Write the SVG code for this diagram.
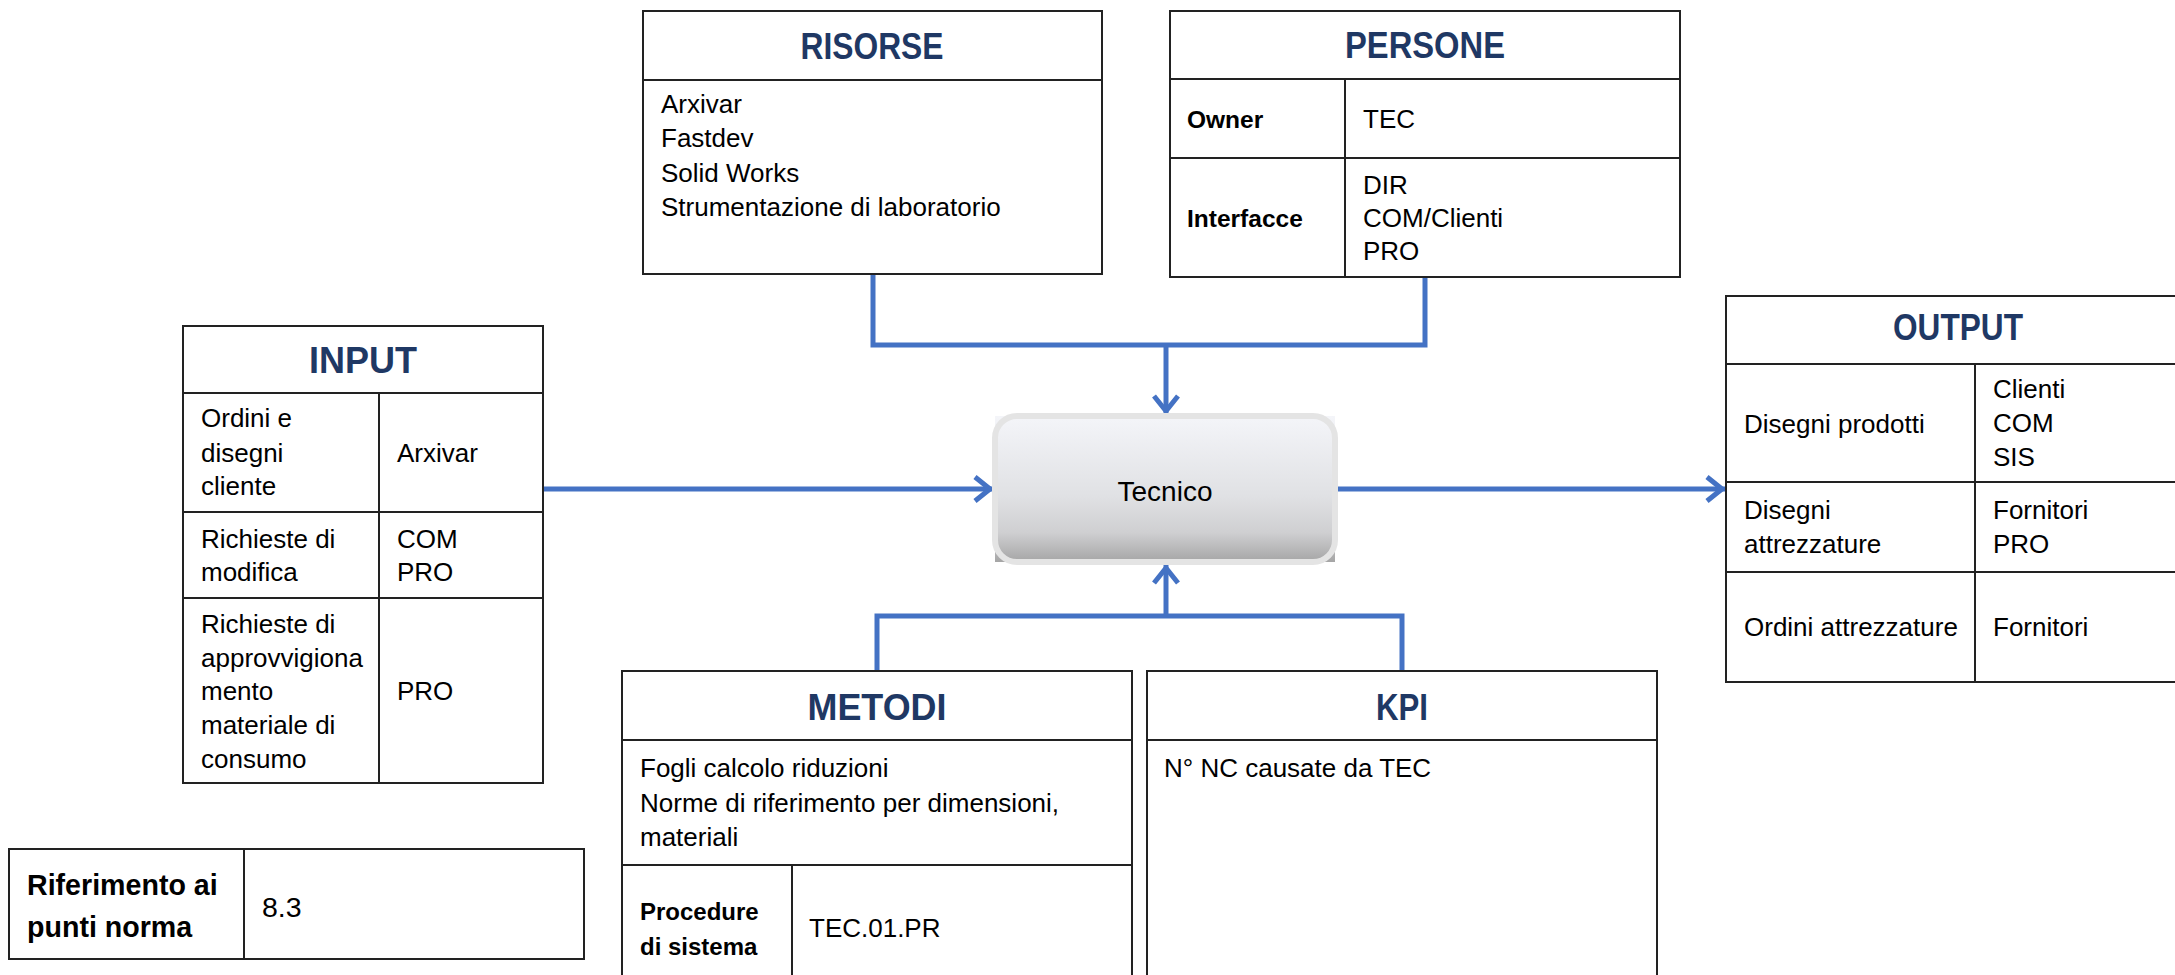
<svg xmlns="http://www.w3.org/2000/svg" width="2175" height="975" viewBox="0 0 2175 975">
<style>
.box{fill:#fff;stroke:#222;stroke-width:2}
.ln{stroke:#222;stroke-width:2;fill:none}
.t{font-family:"Liberation Sans",Arial,sans-serif;font-size:26px;fill:#000}
.b{font-family:"Liberation Sans",Arial,sans-serif;font-size:24.5px;font-weight:bold;fill:#000}
.h{font-family:"Liberation Sans",Arial,sans-serif;font-size:36px;font-weight:bold;fill:#1F3864;text-anchor:middle}
.c{stroke:#4472C4;stroke-width:5;fill:none}
</style>
<defs>
<marker id="arr" markerUnits="userSpaceOnUse" markerWidth="34" markerHeight="34" viewBox="0 0 34 34" refX="30" refY="17" orient="auto" overflow="visible">
<path d="M12,5 L27,17 L12,29" fill="none" stroke="#4472C4" stroke-width="5"/>
</marker>
<linearGradient id="g" x1="0" y1="0" x2="0" y2="1">
<stop offset="0" stop-color="#F4F5F9"/>
<stop offset="0.55" stop-color="#E0E1E4"/>
<stop offset="0.8" stop-color="#CFCFD1"/>
<stop offset="1" stop-color="#A5A5A5"/>
</linearGradient>
</defs>

<g id="connectors">
<polyline class="c" points="873,274 873,345 1425,345 1425,277"/>
<line class="c" x1="1166" y1="345" x2="1166" y2="414" marker-end="url(#arr)"/>
<line class="c" x1="543" y1="489" x2="993" y2="489" marker-end="url(#arr)"/>
<line class="c" x1="1337" y1="489" x2="1725" y2="489" marker-end="url(#arr)"/>
<polyline class="c" points="877,671 877,616 1402,616 1402,671"/>
<line class="c" x1="1166" y1="616" x2="1166" y2="565" marker-end="url(#arr)"/>
</g>

<g id="tecnico">
<rect x="995" y="416" width="340" height="146" fill="url(#g)"/>
<rect x="995" y="416" width="340" height="146" rx="22" fill="none" stroke="#E4E4E4" stroke-width="6"/>
<text class="t" x="1165" y="501" text-anchor="middle" style="font-size:28px">Tecnico</text>
</g>

<g id="risorse">
<rect class="box" x="643" y="11" width="459" height="263"/>
<line class="ln" x1="643" y1="80" x2="1102" y2="80"/>
<text class="h" x="872" y="59" textLength="143" lengthAdjust="spacingAndGlyphs">RISORSE</text>
<text class="t" x="661" y="113">Arxivar</text>
<text class="t" x="661" y="147">Fastdev</text>
<text class="t" x="661" y="182">Solid Works</text>
<text class="t" x="661" y="216">Strumentazione di laboratorio</text>
</g>

<g id="persone">
<rect class="box" x="1170" y="11" width="510" height="266"/>
<line class="ln" x1="1170" y1="79" x2="1680" y2="79"/>
<line class="ln" x1="1170" y1="158" x2="1680" y2="158"/>
<line class="ln" x1="1345" y1="79" x2="1345" y2="277"/>
<text class="h" x="1425" y="58" textLength="160" lengthAdjust="spacingAndGlyphs">PERSONE</text>
<text class="b" x="1187" y="128">Owner</text>
<text class="t" x="1363" y="128">TEC</text>
<text class="b" x="1187" y="227">Interfacce</text>
<text class="t" x="1363" y="194">DIR</text>
<text class="t" x="1363" y="227">COM/Clienti</text>
<text class="t" x="1363" y="260">PRO</text>
</g>

<g id="input">
<rect class="box" x="183" y="326" width="360" height="457"/>
<line class="ln" x1="183" y1="393" x2="543" y2="393"/>
<line class="ln" x1="183" y1="512" x2="543" y2="512"/>
<line class="ln" x1="183" y1="598" x2="543" y2="598"/>
<line class="ln" x1="379" y1="393" x2="379" y2="783"/>
<text class="h" x="363" y="373" textLength="108" lengthAdjust="spacingAndGlyphs">INPUT</text>
<text class="t" x="201" y="427">Ordini e</text>
<text class="t" x="201" y="462">disegni</text>
<text class="t" x="201" y="495">cliente</text>
<text class="t" x="397" y="462">Arxivar</text>
<text class="t" x="201" y="548">Richieste di</text>
<text class="t" x="201" y="581">modifica</text>
<text class="t" x="397" y="548">COM</text>
<text class="t" x="397" y="581">PRO</text>
<text class="t" x="201" y="633">Richieste di</text>
<text class="t" x="201" y="667">approvvigiona</text>
<text class="t" x="201" y="700">mento</text>
<text class="t" x="201" y="734">materiale di</text>
<text class="t" x="201" y="768">consumo</text>
<text class="t" x="397" y="700">PRO</text>
</g>

<g id="output">
<rect class="box" x="1726" y="296" width="470" height="386"/>
<line class="ln" x1="1726" y1="364" x2="2196" y2="364"/>
<line class="ln" x1="1726" y1="482" x2="2196" y2="482"/>
<line class="ln" x1="1726" y1="572" x2="2196" y2="572"/>
<line class="ln" x1="1975" y1="364" x2="1975" y2="682"/>
<text class="h" x="1958" y="340" textLength="130" lengthAdjust="spacingAndGlyphs">OUTPUT</text>
<text class="t" x="1744" y="433">Disegni prodotti</text>
<text class="t" x="1993" y="398">Clienti</text>
<text class="t" x="1993" y="432">COM</text>
<text class="t" x="1993" y="466">SIS</text>
<text class="t" x="1744" y="519">Disegni</text>
<text class="t" x="1744" y="553">attrezzature</text>
<text class="t" x="1993" y="519">Fornitori</text>
<text class="t" x="1993" y="553">PRO</text>
<text class="t" x="1744" y="636">Ordini attrezzature</text>
<text class="t" x="1993" y="636">Fornitori</text>
</g>

<g id="metodi">
<rect class="box" x="622" y="671" width="510" height="320"/>
<line class="ln" x1="622" y1="740" x2="1132" y2="740"/>
<line class="ln" x1="622" y1="865" x2="1132" y2="865"/>
<line class="ln" x1="792" y1="865" x2="792" y2="991"/>
<text class="h" x="877" y="720" textLength="139" lengthAdjust="spacingAndGlyphs">METODI</text>
<text class="t" x="640" y="777">Fogli calcolo riduzioni</text>
<text class="t" x="640" y="812">Norme di riferimento per dimensioni,</text>
<text class="t" x="640" y="846">materiali</text>
<text class="b" x="640" y="920" style="font-size:24px">Procedure</text>
<text class="b" x="640" y="955" style="font-size:24px">di sistema</text>
<text class="t" x="809" y="937">TEC.01.PR</text>
</g>

<g id="kpi">
<rect class="box" x="1147" y="671" width="510" height="320"/>
<line class="ln" x1="1147" y1="740" x2="1657" y2="740"/>
<text class="h" x="1402" y="720" textLength="52" lengthAdjust="spacingAndGlyphs">KPI</text>
<text class="t" x="1164" y="777">N° NC causate da TEC</text>
</g>

<g id="riferimento">
<rect class="box" x="9" y="849" width="575" height="110"/>
<line class="ln" x1="244" y1="849" x2="244" y2="959"/>
<text class="b" x="27" y="895" style="font-size:28.6px">Riferimento ai</text>
<text class="b" x="27" y="937" style="font-size:28.6px">punti norma</text>
<text class="t" x="262" y="917" style="font-size:28.5px">8.3</text>
</g>
</svg>
